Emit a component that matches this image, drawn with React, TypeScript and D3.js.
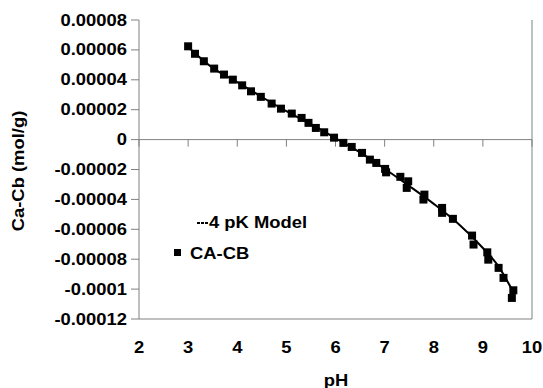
import React from "react";
import * as d3 from "d3";

const phData = [3.0, 3.14, 3.32, 3.53, 3.73, 3.91, 4.1, 4.28, 4.48, 4.7, 4.89, 5.11, 5.31, 5.45, 5.6, 5.77, 5.97, 6.16, 6.33, 6.54, 6.7, 6.83, 7.01, 7.03, 7.32, 7.48, 7.45, 7.81, 7.79, 8.17, 8.17, 8.39, 8.78, 8.81, 9.09, 9.11, 9.32, 9.42, 9.62, 9.59];
const cacbData = [62.4, 57.4, 52.4, 47.5, 43.5, 40.1, 36.3, 32.3, 28.6, 24.1, 20.7, 17.4, 14.5, 11.2, 7.8, 4.9, 1.3, -2.2, -4.9, -8.9, -13.4, -15.6, -19.6, -21.9, -24.9, -27.9, -32.3, -36.8, -40.1, -45.7, -49.0, -53.0, -64.2, -70.2, -75.4, -80.3, -85.8, -92.5, -100.8, -105.9].map((v) => v * 1e-6);

const phModel = [3.0, 3.5, 4.0, 4.5, 5.0, 5.5, 6.0, 6.5, 7.0, 7.5, 8.0, 8.5, 9.0, 9.3, 9.62];
const cacbModel = [62.0, 48.0, 38.5, 28.5, 19.0, 10.3, 1.0, -8.5, -19.5, -31.0, -43.0, -56.3, -72.5, -84.0, -102.0].map((v) => v * 1e-6);

const xTicks = [2, 3, 4, 5, 6, 7, 8, 9, 10];
const yTicks = [0.00008, 0.00006, 0.00004, 0.00002, 0, -0.00002, -0.00004, -0.00006, -0.00008, -0.0001, -0.00012];
const yTickLabels = ["0.00008", "0.00006", "0.00004", "0.00002", "0", "-0.00002", "-0.00004", "-0.00006", "-0.00008", "-0.0001", "-0.00012"];

const W = 543;
const H = 388;
const FONT = "'Liberation Sans', Arial, sans-serif";
const SX = 1.15;

function T({ x, y, anchor = "middle", size = 16, children, rotate = 0 }: any) {
  return (
    <text
      transform={`translate(${x},${y}) rotate(${rotate}) scale(${SX},1)`}
      textAnchor={anchor}
      fontFamily={FONT}
      fontWeight="bold"
      fontSize={size}
      fill="#000"
      dominantBaseline="central"
    >
      {children}
    </text>
  );
}

export default function App() {
  const x = d3.scaleLinear().domain([2, 10]).range([139, 532]);
  const y = d3.scaleLinear().domain([0.00008, -0.00012]).range([20, 319]);
  const line = d3
    .line<number>()
    .x((_, i) => x(phModel[i]))
    .y((d) => y(d))
    .curve(d3.curveMonotoneX);
  const axisColor = "#808080";
  const ms = 8;
  return (
    <svg width={W} height={H} style={{ position: "absolute", left: 0, top: 0 }}>
      <rect x={0} y={0} width={W} height={H} fill="#fff" />
      {/* plot border right & bottom */}
      <line x1={x(2)} x2={x(10)} y1={y(-0.00012)} y2={y(-0.00012)} stroke={axisColor} strokeWidth={1} />
      <line x1={x(10)} x2={x(10)} y1={y(0.00008)} y2={y(-0.00012)} stroke={axisColor} strokeWidth={1} />
      {/* y axis */}
      <line x1={x(2)} x2={x(2)} y1={y(0.00008)} y2={y(-0.00012)} stroke={axisColor} strokeWidth={1} />
      {yTicks.map((t, i) => (
        <g key={i}>
          <line x1={x(2) - 8} x2={x(2)} y1={y(t)} y2={y(t)} stroke={axisColor} strokeWidth={1} />
          <T x={x(2) - 12} y={y(t)} anchor="end">{yTickLabels[i]}</T>
        </g>
      ))}
      {/* x axis at zero */}
      <line x1={x(2)} x2={x(10)} y1={y(0)} y2={y(0)} stroke={axisColor} strokeWidth={1} />
      {xTicks.map((t, i) => (
        <g key={i}>
          <line x1={x(t)} x2={x(t)} y1={y(0)} y2={y(0) + 7} stroke={axisColor} strokeWidth={1} />
          <T x={x(t)} y={347}>{String(t)}</T>
        </g>
      ))}
      <T x={336} y={380}>pH</T>
      <T x={18} y={171} rotate={-90}>Ca-Cb (mol/g)</T>
      {/* model line */}
      <path d={line(cacbModel) || ""} fill="none" stroke="#000" strokeWidth={2} />
      {/* data markers */}
      {phData.map((p, i) => (
        <rect key={i} x={x(p) - ms / 2} y={y(cacbData[i]) - ms / 2} width={ms} height={ms} fill="#000" />
      ))}
      {/* legend */}
      <line x1={197} x2={209} y1={223} y2={223} stroke="#000" strokeWidth={2} strokeDasharray="3,1" />
      <T x={209} y={222} anchor="start">4 pK Model</T>
      <rect x={174} y={249} width={7} height={7} fill="#000" />
      <T x={190} y={253} anchor="start">CA-CB</T>
    </svg>
  );
}
